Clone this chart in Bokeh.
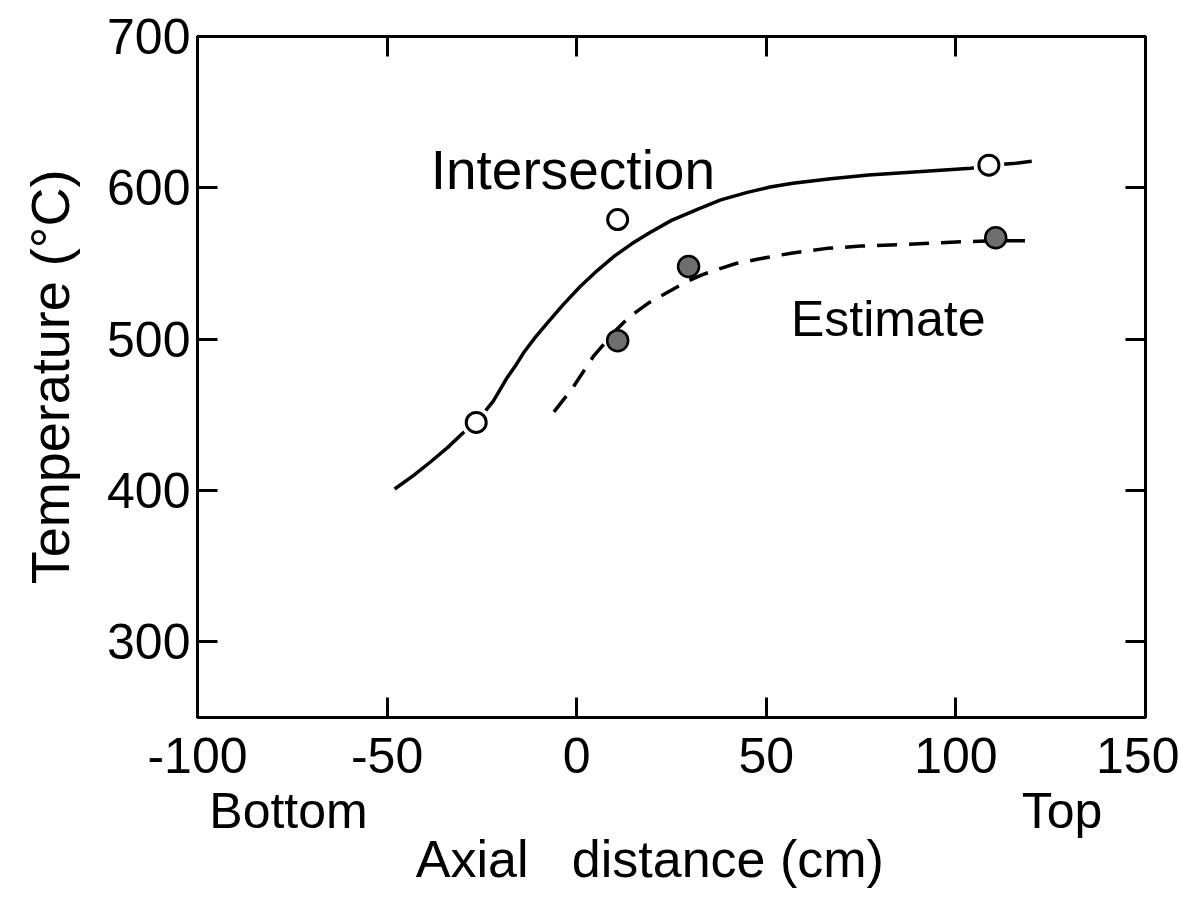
from bokeh.plotting import figure
from bokeh.models import LinearAxis, FixedTicker, Label, Range1d
from bokeh.embed import file_html
from bokeh.resources import INLINE

# ---- data ----
x_ticks = [-100, -50, 0, 50, 100, 150]
x_tick_labels = ["-100", "-50", "0", "50", "100", "150"]
y_ticks = [300, 400, 500, 600, 700]
y_tick_labels = ["300", "400", "500", "600", "700"]
end_ticks = [-76, 128]
end_labels = ["Bottom", "Top"]

intersection_x = [-26.5, 10.8, 108.7]
intersection_y = [445, 579, 615]
estimate_x = [10.8, 29.5, 110.5]
estimate_y = [499, 548, 567]

solid_x = [-48, -43, -38.5, -34, -30, -26.5, -22, -18.5, -16, -14, -11, -8, -3.5, 1, 5.5, 10, 14.5, 19, 25, 32, 38, 45, 51, 57, 67, 77, 86, 95, 104, 109, 115, 120]
solid_y = [401, 410, 419, 428.5, 438, 445, 459, 474, 483, 491, 501, 510, 523, 535, 545.5, 555, 563, 570, 578.5, 586, 592, 597, 600.5, 603, 606, 608.5, 610, 611.5, 613, 615, 616, 617.5]

dash_x = [-6, -1, 4.5, 10, 14, 19, 24, 29, 33, 37, 42, 48, 57, 66, 75, 85, 94, 103, 110, 120]
dash_y = [452, 468, 489, 505, 515, 524, 531, 538, 542.5, 546, 550, 553, 557, 560, 561.5, 562.5, 563.5, 564.5, 565, 565]

FONT = "Liberation Sans"

p = figure(width=1179, height=898, output_backend="svg", toolbar_location=None,
           x_range=Range1d(-100, 150), y_range=Range1d(250, 700),
           x_axis_location=None, y_axis_location=None)
p.min_border_left = 197
p.min_border_right = 34
p.min_border_top = 36
p.min_border_bottom = 181
p.xgrid.visible = False
p.ygrid.visible = False
p.outline_line_color = "black"
p.outline_line_width = 3
p.background_fill_color = "white"
p.border_fill_color = "white"


def style_axis(ax, ticks, labels, show_labels, standoff):
    ax.ticker = FixedTicker(ticks=ticks)
    ax.major_label_overrides = {t: l for t, l in zip(ticks, labels)}
    ax.major_tick_in = 20
    ax.major_tick_out = 0
    ax.minor_tick_in = 0
    ax.minor_tick_out = 0
    ax.major_tick_line_width = 3
    ax.axis_line_width = 3
    ax.major_label_standoff = standoff
    ax.major_label_text_font = FONT
    ax.major_label_text_font_size = "50px" if show_labels else "0px"
    ax.major_label_text_color = "black" if show_labels else None


bottom = LinearAxis()
style_axis(bottom, x_ticks, x_tick_labels, True, 20)
p.add_layout(bottom, "below")

# second row under the x axis: "Bottom" / "Top" and the axis title
ends = LinearAxis()
ends.ticker = FixedTicker(ticks=end_ticks)
ends.major_label_overrides = {t: l for t, l in zip(end_ticks, end_labels)}
ends.axis_line_color = None
ends.major_tick_line_color = None
ends.minor_tick_line_color = None
ends.major_tick_in = 0
ends.major_tick_out = 0
ends.major_label_standoff = 7
ends.major_label_text_font = FONT
ends.major_label_text_font_size = "50px"
ends.major_label_text_color = "black"
ends.axis_label = "Axial\u00a0\u00a0\u00a0distance (cm)\u00a0\u00a0\u00a0"
ends.axis_label_text_font = FONT
ends.axis_label_text_font_size = "52px"
ends.axis_label_text_font_style = "normal"
ends.axis_label_text_color = "black"
ends.axis_label_standoff = -12
p.add_layout(ends, "below")

top = LinearAxis()
style_axis(top, x_ticks, x_tick_labels, False, 0)
p.add_layout(top, "above")

left = LinearAxis()
style_axis(left, y_ticks, y_tick_labels, True, 7)
left.axis_label = "Temperature (\u00b0C)"
left.axis_label_text_font = FONT
left.axis_label_text_font_size = "54px"
left.axis_label_text_font_style = "normal"
left.axis_label_text_color = "black"
left.axis_label_standoff = 24
p.add_layout(left, "left")

right = LinearAxis()
style_axis(right, y_ticks, y_tick_labels, False, 0)
p.add_layout(right, "right")

# curves
p.line(solid_x, solid_y, line_color="black", line_width=3.5)
p.line(dash_x, dash_y, line_color="black", line_width=3.5, line_dash="20 12")

# markers with white halos
p.scatter(intersection_x, intersection_y, size=30, fill_color="white", line_color="white", line_width=1)
p.scatter(intersection_x, intersection_y, size=20, fill_color="white", line_color="black", line_width=3)
p.scatter(estimate_x, estimate_y, size=21, fill_color="#6e6e6e", line_color="black", line_width=2.5)

# texts inside the frame
def add_text(x, y, t, size):
    p.add_layout(Label(x=x, y=y, text=t, text_font=FONT, text_font_size=size,
                       text_color="black", text_baseline="alphabetic", text_align="left"))

add_text(-38.5, 612, "Intersection", "55px")
add_text(56.5, 513, "Estimate", "50px")

open("out.html", "w").write(file_html(p, INLINE))
